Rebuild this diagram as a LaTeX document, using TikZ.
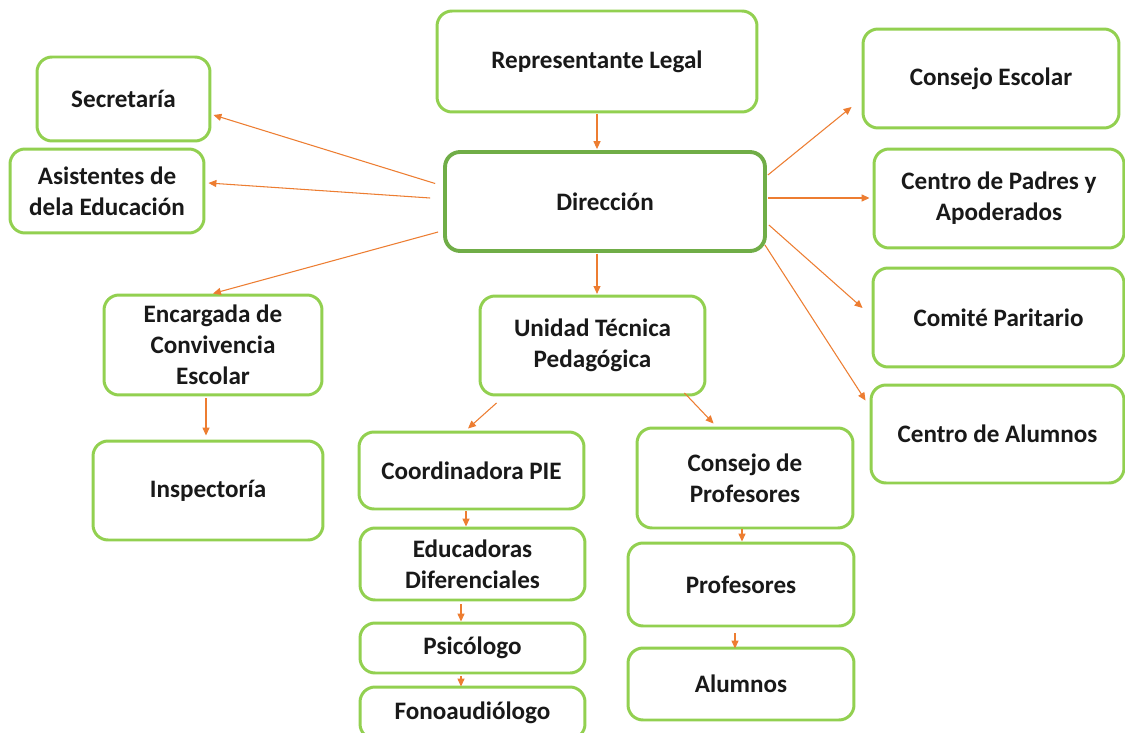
\documentclass[tikz,border=0pt]{standalone}
\usepackage{fontspec}
\setmainfont{Carlito}
\usepackage{xcolor}
\usetikzlibrary{positioning, arrows.meta, calc}
\definecolor{boxgreen}{HTML}{92D050}
\definecolor{maingreen}{HTML}{70AD47}
\definecolor{linkorange}{HTML}{ED7D31}

\begin{document}
\begin{tikzpicture}
  [x=0.02cm,y=-0.02cm,
   orgbox/.style={draw=boxgreen,line width=1.7pt,rounded corners=0.3cm,fill=white,inner sep=0pt,
     align=center,text=black!90,font=\fontsize{14.3}{17.6}\selectfont\bfseries},
   mainbox/.style={orgbox,draw=maingreen,line width=2.2pt},
   link/.style={draw=linkorange,line width=0.6pt,-{Triangle[length=4.5pt,width=4pt]}}]
  \path [use as bounding box,fill=white] (0,0) rectangle (1125,733);
  \node (legalrep) at (597,61.5) [orgbox,minimum width=6.4cm,minimum height=2.02cm] {Representante Legal};
  \node (direccion) at (605,201.5) [mainbox,minimum width=6.4cm,minimum height=1.98cm] {Dirección};
  \node (secretaria) at (123.5,99) [orgbox,minimum width=3.46cm,minimum height=1.68cm] {Secretaría};
  \node (asistentes) at (107,191) [orgbox,minimum width=3.88cm,minimum height=1.68cm] {Asistentes de\\dela Educación};
  \node (consejoesc) at (991,78.5) [orgbox,minimum width=5.12cm,minimum height=1.98cm] {Consejo Escolar};
  \node (centropadres) at (999,198.5) [orgbox,minimum width=5.0cm,minimum height=1.98cm] {Centro de Padres y\\Apoderados};
  \node (comite) at (998.5,317.5) [orgbox,minimum width=5.02cm,minimum height=1.98cm] {Comité Paritario};
  \node (centroalum) at (997.5,434) [orgbox,minimum width=5.06cm,minimum height=1.96cm] {Centro de Alumnos};
  \node (encargada) at (213,345) [orgbox,minimum width=4.36cm,minimum height=2.0cm] {Encargada de\\Convivencia\\Escolar};
  \node (inspectoria) at (208,490.5) [orgbox,minimum width=4.6cm,minimum height=1.98cm] {Inspectoría};
  \node (utp) at (592.5,345.5) [orgbox,minimum width=4.5cm,minimum height=1.98cm] {Unidad Técnica\\Pedagógica};
  \node (coordpie) at (471.5,470.5) [orgbox,minimum width=4.5cm,minimum height=1.54cm] {Coordinadora PIE};
  \node (educadoras) at (472.5,564) [orgbox,minimum width=4.5cm,minimum height=1.44cm] {Educadoras\\Diferenciales};
  \node (psicologo) at (472.5,648) [orgbox,minimum width=4.5cm,minimum height=1.0cm] {Psicólogo};
  \node (fono) at (472.5,713) [orgbox,minimum width=4.5cm,minimum height=1.04cm] {Fonoaudiólogo};
  \node (consejoprof) at (745,478) [orgbox,minimum width=4.32cm,minimum height=2.0cm] {Consejo de\\Profesores};
  \node (profesores) at (741,584.5) [orgbox,minimum width=4.52cm,minimum height=1.66cm] {Profesores};
  \node (alumnos) at (741,684) [orgbox,minimum width=4.52cm,minimum height=1.44cm] {Alumnos};
  \draw [link] ($(legalrep.south)+(0,1)$) -- ($(legalrep.south |- direccion.north)+(0,-1)$);
  \draw [link] ($(direccion.south)+(-8,1)$) -- ($(direccion.south -| legalrep.south)+(0,41)$);
  \draw [link] ($(direccion.west)+(-8,-18)$) -- ($(secretaria.east)+(2,16)$);
  \draw [link] ($(direccion.west)+(-13,-3.5)$) -- ($(asistentes.east)+(3,-8)$);
  \draw [link] ($(direccion.west)+(-5,30.5)$) -- (encargada.north);
  \draw [link] ($(direccion.east)+(1,-26.5)$) -- ($(consejoesc.west)+(-10,28.5)$);
  \draw [link] ($(direccion.east)+(1,-3.5)$) -- ($(centropadres.west)+(-3,-0.5)$);
  \draw [link] ($(direccion.east)+(2,23.5)$) -- ($(comite.west)+(-9,-9.5)$);
  \draw [link] ($(direccion.south east)+(-2,-8)$) -- ($(centroalum.north west)+(-4,17)$);
  \draw [link] ($(encargada.south)+(-7,2)$) -- ($(inspectoria.north)+(-2,-4)$);
  \draw [link] ($(utp.south west)+(18,6.5)$) -- ($(coordpie.north)+(-3.5,-2)$);
  \draw [link] ($(utp.south east)+(-22,-3.5)$) -- ($(consejoprof.north west)+(78,-3)$);
  \draw [link] ($(coordpie.south)+(-5.5,1)$) -- ($(educadoras.north)+(-6.5,0)$);
  \draw [link] ($(educadoras.south)+(-11.5,3)$) -- ($(psicologo.north)+(-11.5,0)$);
  \draw [link] ($(psicologo.south)+(-11.5,2)$) -- ($(fono.north)+(-11.5,1)$);
  \draw [link] ($(consejoprof.south)+(-3,0)$) -- ($(profesores.north)+(1,0)$);
  \draw [link] ($(profesores.south)+(-6,6)$) -- ($(alumnos.north)+(-6,2)$);
\end{tikzpicture}
\end{document}
